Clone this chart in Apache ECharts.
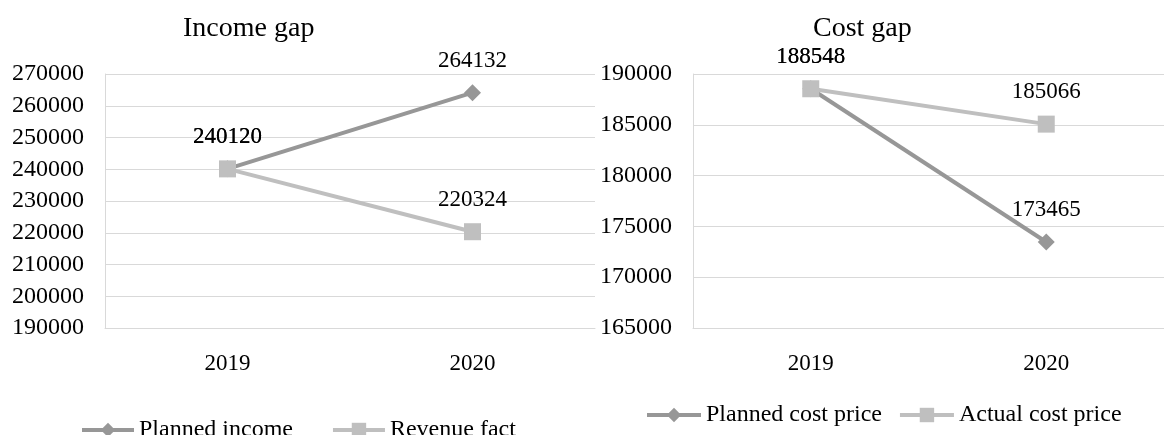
<!DOCTYPE html>
<html>
<head>
<meta charset="utf-8">
<script src="https://cdn.jsdelivr.net/npm/echarts@6/dist/echarts.min.js"></script>
<style>
  html, body { margin: 0; padding: 0; background: #ffffff; }
  #chart { width: 1164px; height: 435px; }
</style>
</head>
<body>
<div id="chart"></div>
<script>
// Income comparison
const years = ['2019', '2020'];
const plannedIncome = [240120, 264132];
const revenueFact = [240120, 220324];
const incomeTicks = { min: 190000, max: 270000, interval: 10000 };

// Cost comparison
const plannedCost = [188548, 173465];
const actualCost = [188548, 185066];
const costTicks = { min: 165000, max: 190000, interval: 5000 };

const FONT = "'Liberation Serif', 'Times New Roman', serif";
const DARK = '#979797';
const LIGHT = '#bfbfbf';
const GRID_LINE = '#d9d9d9';

function lineSeries(name, data, color, symbol, axisIndex) {
  return {
    name: name,
    type: 'line',
    xAxisIndex: axisIndex,
    yAxisIndex: axisIndex,
    data: data,
    symbol: symbol,
    symbolSize: 17,
    lineStyle: { color: color, width: 4 },
    itemStyle: { color: color },
    label: {
      show: true,
      position: 'top',
      distance: 12,
      color: '#000',
      fontFamily: FONT,
      fontSize: 23
    },
    animation: false
  };
}

function yAxis(gridIndex, ticks) {
  return {
    type: 'value',
    gridIndex: gridIndex,
    min: ticks.min,
    max: ticks.max,
    interval: ticks.interval,
    axisLine: { show: true, lineStyle: { color: GRID_LINE, width: 1 } },
    axisTick: { show: false },
    splitLine: { lineStyle: { color: GRID_LINE, width: 1 } },
    axisLabel: {
      color: '#000', fontFamily: FONT, fontSize: 24, margin: 21,
      formatter: function (v) { return String(v); }
    }
  };
}

function xAxis(gridIndex) {
  return {
    type: 'category',
    gridIndex: gridIndex,
    data: years,
    boundaryGap: true,
    axisLine: { show: true, lineStyle: { color: GRID_LINE, width: 1 } },
    axisTick: { show: false },
    axisLabel: { color: '#000', fontFamily: FONT, fontSize: 23, margin: 24 }
  };
}

const legendText = { color: '#000', fontFamily: FONT, fontSize: 24 };
const legendLine = { width: 4 };

const chart = echarts.init(document.getElementById('chart'), null, { renderer: 'canvas' });
chart.setOption({
  backgroundColor: '#ffffff',
  animation: false,
  title: [
    { text: 'Income gap', left: 178, top: 10,
      textStyle: { color: '#000', fontFamily: FONT, fontSize: 28, fontWeight: 'normal' } },
    { text: 'Cost gap', left: 808, top: 10,
      textStyle: { color: '#000', fontFamily: FONT, fontSize: 28, fontWeight: 'normal' } }
  ],
  grid: [
    { left: 105, top: 74, width: 490, height: 254 },
    { left: 693, top: 74, width: 480, height: 254 }
  ],
  xAxis: [xAxis(0), xAxis(1)],
  yAxis: [yAxis(0, incomeTicks), yAxis(1, costTicks)],
  legend: [
    { data: ['Planned income', 'Revenue fact'], left: 80, top: 418, padding: 0,
      itemWidth: 52, itemHeight: 18, itemGap: 38, lineStyle: legendLine,
      textStyle: legendText },
    { data: ['Planned cost price', 'Actual cost price'], left: 645, top: 403, padding: 0,
      itemWidth: 54, itemHeight: 18, itemGap: 16, lineStyle: legendLine,
      textStyle: legendText }
  ],
  series: [
    lineSeries('Planned income', plannedIncome, DARK, 'diamond', 0),
    lineSeries('Revenue fact', revenueFact, LIGHT, 'rect', 0),
    lineSeries('Planned cost price', plannedCost, DARK, 'diamond', 1),
    lineSeries('Actual cost price', actualCost, LIGHT, 'rect', 1)
  ]
});
</script>
</body>
</html>
